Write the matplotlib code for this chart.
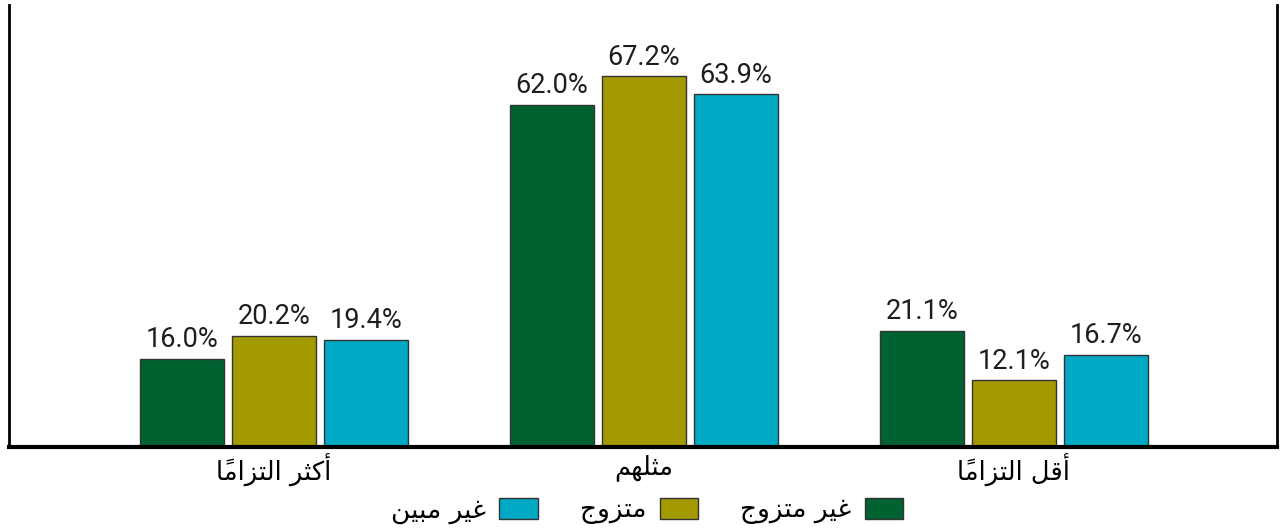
import matplotlib.pyplot as plt
import numpy as np

# data
categories = ['أكثر التزاماً', 'مثلهم', 'أقل التزاماً']
series_names = ['غير متزوج', 'متزوج', 'غير مبين']
not_married = [16.0, 62.0, 21.1]
married = [20.2, 67.2, 12.1]
not_stated = [19.4, 63.9, 16.7]
colors = ['#006230', '#a39a00', '#00a9c4']

# matplotlib has no arabic shaping, so build presentation forms by hand
FORMS = {
    'ا': ('\ufe8d', '\ufe8e', None, None),
    'أ': ('\ufe83', '\ufe84', None, None),
    'ب': ('\ufe8f', '\ufe90', '\ufe91', '\ufe92'),
    'ت': ('\ufe95', '\ufe96', '\ufe97', '\ufe98'),
    'ث': ('\ufe99', '\ufe9a', '\ufe9b', '\ufe9c'),
    'ج': ('\ufe9d', '\ufe9e', '\ufe9f', '\ufea0'),
    'ر': ('\ufead', '\ufeae', None, None),
    'ز': ('\ufeaf', '\ufeb0', None, None),
    'غ': ('\ufecd', '\ufece', '\ufecf', '\ufed0'),
    'ق': ('\ufed5', '\ufed6', '\ufed7', '\ufed8'),
    'ك': ('\ufed9', '\ufeda', '\ufedb', '\ufedc'),
    'ل': ('\ufedd', '\ufede', '\ufedf', '\ufee0'),
    'م': ('\ufee1', '\ufee2', '\ufee3', '\ufee4'),
    'ن': ('\ufee5', '\ufee6', '\ufee7', '\ufee8'),
    'ه': ('\ufee9', '\ufeea', '\ufeeb', '\ufeec'),
    'و': ('\ufeed', '\ufeee', None, None),
    'ي': ('\ufef1', '\ufef2', '\ufef3', '\ufef4'),
}
MARKS = {'\u064b'}


def shape_word(word):
    letters = [c for c in word]
    idx = [i for i, c in enumerate(letters) if c not in MARKS]
    out = list(letters)
    for k, i in enumerate(idx):
        c = letters[i]
        if c not in FORMS:
            continue
        prev_c = letters[idx[k - 1]] if k > 0 else None
        next_c = letters[idx[k + 1]] if k + 1 < len(idx) else None
        joins_prev = prev_c in FORMS and FORMS[prev_c][2] is not None
        joins_next = next_c in FORMS and FORMS[c][2] is not None
        iso, fin, ini, med = FORMS[c]
        if joins_prev and joins_next:
            out[i] = med
        elif joins_prev:
            out[i] = fin
        elif joins_next:
            out[i] = ini
        else:
            out[i] = iso
    # group base + marks, then reverse into visual order
    groups = []
    for i, c in enumerate(letters):
        if c in MARKS and groups:
            groups[-1] += out[i]
        else:
            groups.append(out[i])
    return ''.join(reversed(groups))


def ar(text):
    return ' '.join(shape_word(w) for w in reversed(text.split(' ')))


plt.rcParams['font.family'] = ['Roboto', 'DejaVu Sans']

fig = plt.figure(figsize=(12.8, 5.28), dpi=100)
ax = fig.add_axes([9 / 1280, 1 - 447 / 528, 1268 / 1280, 442 / 528])

x = np.arange(len(categories))
width = 0.227
step = 0.249
for j, vals in enumerate([not_married, married, not_stated]):
    bars = ax.bar(x + (j - 1) * step, vals, width, color=colors[j],
                  edgecolor='#333333', linewidth=1, label=ar(series_names[j]))
    for b, v in zip(bars, vals):
        ax.annotate(f'{v:.1f}%', (b.get_x() + b.get_width() / 2, v),
                    xytext=(0, 4), textcoords='offset points',
                    ha='center', va='bottom', fontsize=19.5, color='#1e1e1e')

ax.set_xlim(-0.716, 2.711)
ax.set_ylim(0, 80.1)
ax.set_yticks([])
ax.set_xticks(x)
ax.set_xticklabels([ar(c) for c in categories], fontsize=18.5,
                   family=['DejaVu Sans'])
ax.tick_params(axis='x', length=0, pad=5)
ax.spines['top'].set_visible(False)
for s in ['left', 'right']:
    ax.spines[s].set_linewidth(2)
ax.spines['bottom'].set_linewidth(3)

handles, labels = ax.get_legend_handles_labels()
leg = fig.legend(handles[::-1], labels[::-1], loc='center',
                 bbox_to_anchor=(647 / 1280, 1 - 511 / 528), ncol=3,
                 markerfirst=False, frameon=False, handlelength=1.45,
                 handleheight=0.85, columnspacing=1.6, handletextpad=0.5,
                 borderpad=0, prop={'family': 'DejaVu Sans', 'size': 19})

fig.savefig('out.png', dpi=100)
